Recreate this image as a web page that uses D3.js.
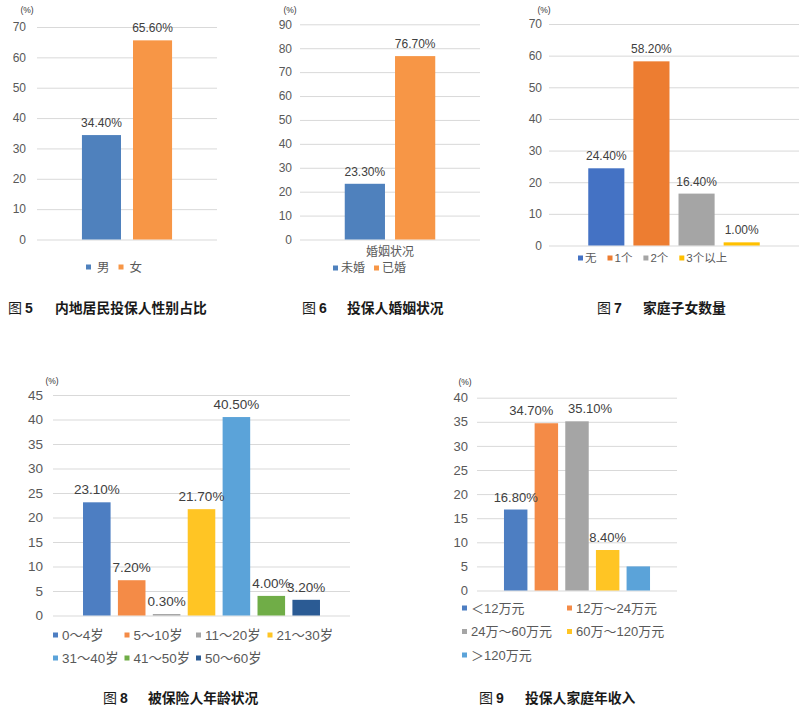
<!DOCTYPE html>
<html><head><meta charset="utf-8">
<script src="https://cdn.jsdelivr.net/npm/d3@7/dist/d3.min.js"></script>
<style>
html,body{margin:0;padding:0;background:#fff;}
svg{display:block;}
text{font-family:"Liberation Sans","Noto Sans CJK SC",Arial,sans-serif;}
</style></head>
<body>
<script>
// ---------- DATA ----------
const fig5Categories = ["男", "女"];
const fig5Values = [34.4, 65.6];
const fig5Ticks = [0, 10, 20, 30, 40, 50, 60, 70];
const fig5Caption = ["图 ", "5", "内地居民投保人性别占比"];

const fig6Categories = ["未婚", "已婚"];
const fig6Values = [23.3, 76.7];
const fig6Ticks = [0, 10, 20, 30, 40, 50, 60, 70, 80, 90];
const fig6AxisLabel = "婚姻状况";
const fig6Caption = ["图 ", "6", "投保人婚姻状况"];

const fig7Categories = ["无", "1个", "2个", "3个以上"];
const fig7Values = [24.4, 58.2, 16.4, 1.0];
const fig7Ticks = [0, 10, 20, 30, 40, 50, 60, 70];
const fig7Caption = ["图 ", "7", "家庭子女数量"];

const fig8Categories = ["0～4岁", "5～10岁", "11～20岁", "21～30岁", "31～40岁", "41～50岁", "50～60岁"];
const fig8Values = [23.1, 7.2, 0.3, 21.7, 40.5, 4.0, 3.2];
const fig8Ticks = [0, 5, 10, 15, 20, 25, 30, 35, 40, 45];
const fig8Caption = ["图 ", "8", "被保险人年龄状况"];

const fig9Categories = ["＜12万元", "12万～24万元", "24万～60万元", "60万～120万元", "＞120万元"];
const fig9Values = [16.8, 34.7, 35.1, 8.4, 5.0];
const fig9LabelShown = [true, true, true, true, false];
const fig9Ticks = [0, 5, 10, 15, 20, 25, 30, 35, 40];
const fig9Caption = ["图 ", "9", "投保人家庭年收入"];

const unitLabel = "(%)";

// ---------- STYLE / LAYOUT ----------
const svg = d3.select("body").append("svg").attr("width", 800).attr("height", 712);
svg.append("rect").attr("width", 800).attr("height", 712).attr("fill", "#fff");

const panels = [
  { cats: fig5Categories, vals: fig5Values, ticks: fig5Ticks, caption: fig5Caption,
    colors: ["#4F81BD", "#F79646"],
    gx0: 37, gx1: 217, y0: 239.5, y1: 27, pi: 0.235, po: 0.88, tickPad: 11, fs: 12,
    unit: [27, 10], legend: { x: 86, y: 267, mode: "flow", gap: 9, tGap: 6, fs: 12.5 },
    cap: { y: 313, x1: 8, x2: 55 } },
  { cats: fig6Categories, vals: fig6Values, ticks: fig6Ticks, caption: fig6Caption,
    colors: ["#4F81BD", "#F79646"], axisLabel: fig6AxisLabel,
    gx0: 300, gx1: 480, y0: 239.5, y1: 24.3, pi: 0.2, po: 0.89, tickPad: 8, fs: 12,
    unit: [290, 10], legend: { x: 333, y: 268, mode: "flow", gap: 9, tGap: 3, fs: 12 },
    cap: { y: 313, x1: 302, x2: 347 } },
  { cats: fig7Categories, vals: fig7Values, ticks: fig7Ticks, caption: fig7Caption,
    colors: ["#4472C4", "#ED7D31", "#A5A5A5", "#FFC000"],
    gx0: 549, gx1: 799, y0: 245.5, y1: 24, pi: 0.2, po: 0.87, tickPad: 7, fs: 12,
    unit: [544, 10], legend: { x: 578, y: 258, mode: "flow", gap: 11, tGap: 2, fs: 11.5 },
    cap: { y: 313, x1: 597, x2: 643 } },
  { cats: fig8Categories, vals: fig8Values, ticks: fig8Ticks, caption: fig8Caption,
    colors: ["#4D7EC2", "#F48B47", "#A5A5A5", "#FFC524", "#5BA3D9", "#70AD47", "#2B5B94"],
    gx0: 53, gx1: 350, y0: 615.5, y1: 395, pi: 0.21, po: 0.86, tickPad: 10, fs: 13.5,
    unit: [52, 381], legend: { x: 53, y: 635, mode: "cols", colW: 71.5, perRow: 4, rowH: 23, tGap: 4, fs: 13.4 },
    cap: { y: 703, x1: 103, x2: 148 } },
  { cats: fig9Categories, vals: fig9Values, ticks: fig9Ticks, caption: fig9Caption,
    colors: ["#4D7EC2", "#F48B47", "#A5A5A5", "#FFC524", "#5BA3D9"], shown: fig9LabelShown,
    nudge: { 1: -15, 2: 13 },
    gx0: 477, gx1: 677, y0: 590.5, y1: 397.7, pi: 0.235, po: 0.88, tickPad: 9, fs: 13,
    unit: [465, 382], legend: { x: 462, y: 608, mode: "cols", colW: 105, perRow: 2, rowH: 23.5, tGap: 4, fs: 13 },
    cap: { y: 703, x1: 479, x2: 525 } }
];

function drawPanel(p) {
  const g = svg.append("g");
  const y = d3.scaleLinear().domain([0, d3.max(p.ticks)]).range([p.y0, p.y1]);
  const x = d3.scaleBand().domain(p.cats).range([p.gx0, p.gx1]).paddingInner(p.pi).paddingOuter(p.po);
  const color = d3.scaleOrdinal().domain(p.cats).range(p.colors);

  // axis + gridlines
  const ax = g.append("g").attr("transform", `translate(${p.gx0},0)`)
    .call(d3.axisLeft(y).tickValues(p.ticks).tickFormat(d3.format("d"))
      .tickSizeInner(-(p.gx1 - p.gx0)).tickSizeOuter(0).tickPadding(p.tickPad));
  ax.select(".domain").remove();
  ax.selectAll(".tick line").attr("stroke", "#D9D9D9").attr("stroke-width", 1);
  ax.selectAll(".tick text").attr("fill", "#595959").attr("font-size", p.fs)
    .attr("font-family", '"Liberation Sans",Arial,sans-serif');

  // unit
  g.append("text").attr("x", p.unit[0]).attr("y", p.unit[1]).attr("dy", "0.35em")
    .attr("text-anchor", "middle").attr("font-size", 8.5).attr("fill", "#333").text(unitLabel);

  const rows = p.cats.map((c, i) => ({ c, v: p.vals[i], i }));
  // bars
  g.selectAll("rect.bar").data(rows).join("rect").attr("class", "bar")
    .attr("x", d => x(d.c)).attr("width", x.bandwidth())
    .attr("y", d => y(d.v)).attr("height", d => y(0) - y(d.v))
    .attr("fill", d => color(d.c));

  // data labels
  g.selectAll("text.lbl").data(rows.filter(d => !p.shown || p.shown[d.i])).join("text")
    .attr("class", "lbl")
    .attr("x", d => x(d.c) + x.bandwidth() / 2 + ((p.nudge && p.nudge[d.i]) || 0))
    .attr("y", d => y(d.v) - 8)
    .attr("text-anchor", "middle").attr("font-size", p.fs).attr("fill", "#404040")
    .text(d => d.v.toFixed(2) + "%");

  // category axis label
  if (p.axisLabel) {
    g.append("text").attr("x", (p.gx0 + p.gx1) / 2).attr("y", p.y0 + 12).attr("dy", "0.35em")
      .attr("text-anchor", "middle").attr("font-size", 12).attr("fill", "#595959").text(p.axisLabel);
  }

  // legend
  const L = p.legend;
  let cx = L.x;
  rows.forEach((d, i) => {
    let lx, ly;
    if (L.mode === "flow") { lx = cx; ly = L.y; }
    else { lx = L.x + (i % L.perRow) * L.colW; ly = L.y + Math.floor(i / L.perRow) * L.rowH; }
    g.append("rect").attr("x", lx).attr("y", ly - 2.5).attr("width", 5).attr("height", 5).attr("fill", color(d.c));
    const t = g.append("text").attr("x", lx + 5 + L.tGap).attr("y", ly).attr("dy", "0.36em")
      .attr("font-size", L.fs).attr("fill", "#595959").text(d.c);
    if (L.mode === "flow") cx = lx + 5 + L.tGap + t.node().getComputedTextLength() + L.gap;
  });

  // caption
  const cap = g.append("text").attr("x", p.cap.x1).attr("y", p.cap.y).attr("font-size", 14).attr("fill", "#1a1a1a");
  cap.append("tspan").attr("font-family", '"Noto Sans CJK SC",sans-serif').attr("font-weight", 400).text(p.caption[0].trim());
  cap.append("tspan").attr("dx", 3).attr("font-weight", 700).attr("font-family", '"Liberation Sans",Arial,sans-serif').text(p.caption[1]);
  g.append("text").attr("x", p.cap.x2).attr("y", p.cap.y).attr("font-size", 13.8).attr("font-weight", 700)
    .attr("font-family", '"Noto Sans CJK SC",sans-serif').attr("fill", "#1a1a1a").text(p.caption[2]);
}

panels.forEach(drawPanel);
</script>
</body></html>
